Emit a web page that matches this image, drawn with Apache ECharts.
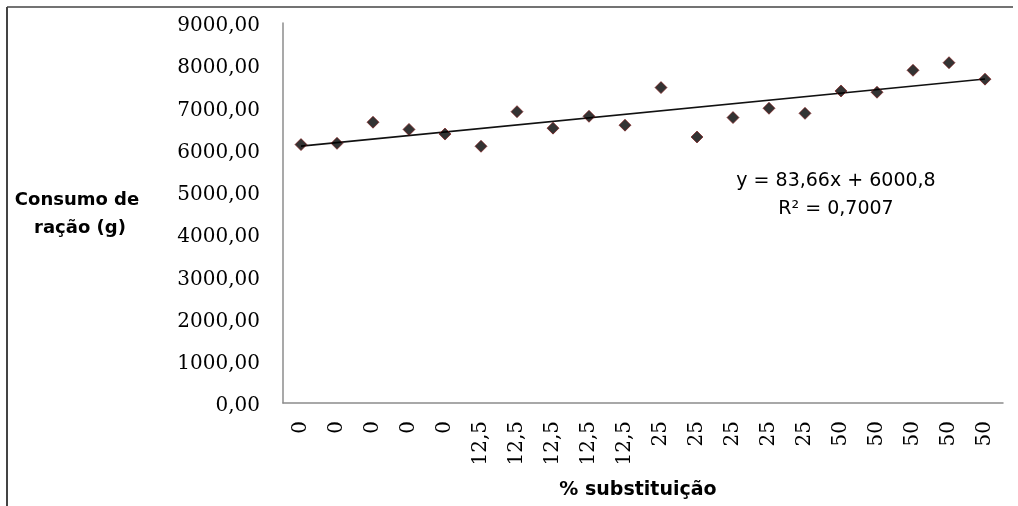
<!DOCTYPE html>
<html>
<head>
<meta charset="utf-8">
<script src="https://cdn.jsdelivr.net/npm/echarts@6/dist/echarts.min.js"></script>
<style>
html,body{margin:0;padding:0;background:#fff;}
#chart{width:1018px;height:506px;}
</style>
</head>
<body>
<div id="chart"></div>
<script>
// Data
const categories = ['0','0','0','0','0','12,5','12,5','12,5','12,5','12,5','25','25','25','25','25','50','50','50','50','50'];
const consumo = [6120, 6150, 6650, 6480, 6370, 6080, 6900, 6510, 6790, 6580, 7470, 6300, 6760, 6980, 6860, 7390, 7360, 7880, 8060, 7670];
const trendSlope = 83.66;
const trendIntercept = 6000.8;
const equationLines = ['y = 83,66x + 6000,8', 'R² = 0,7007'];
const yTitleLines = ['Consumo de', 'ração (g)'];
const xTitle = '% substituição';

const scatterData = consumo.map((v, i) => [i, v]);
const n = consumo.length;
const trendData = [[0, trendIntercept + trendSlope * 1], [n - 1, trendIntercept + trendSlope * n]];

const chart = echarts.init(document.getElementById('chart'));
chart.setOption({
  animation: false,
  backgroundColor: '#ffffff',
  grid: { left: 283, right: 15, top: 23, bottom: 103, containLabel: false },
  xAxis: {
    type: 'category',
    data: categories,
    boundaryGap: true,
    axisLine: { lineStyle: { color: '#8c8c8c', width: 1.5 } },
    axisTick: { show: false },
    axisLabel: {
      rotate: 90, interval: 0, margin: 18,
      fontFamily: 'DejaVu Serif', fontSize: 20, color: '#000'
    },
    splitLine: { show: false }
  },
  yAxis: {
    type: 'value', min: 0, max: 9000, interval: 1000,
    axisLine: { show: true, lineStyle: { color: '#8c8c8c', width: 1.5 } },
    axisTick: { show: false },
    splitLine: { show: false },
    axisLabel: {
      margin: 23, color: '#000',
      formatter: v => '{t|' + v.toFixed(2).replace('.', ',') + '}',
      rich: { t: { fontFamily: 'DejaVu Serif', fontSize: 20, color: '#000', padding: [6, 0, 0, 0] } }
    }
  },
  series: [
    {
      type: 'line', data: trendData, symbol: 'none', silent: true,
      lineStyle: { color: '#111', width: 1.6 }, z: 2
    },
    {
      type: 'scatter', data: scatterData, symbol: 'diamond', symbolSize: 12,
      itemStyle: { color: '#000', borderColor: '#7a1010', borderWidth: 0.8 }, z: 3
    }
  ],
  graphic: [
    { type: 'line', shape: { x1: 7, y1: 7, x2: 1013, y2: 7 }, style: { stroke: '#444', lineWidth: 1.5 } },
    { type: 'line', shape: { x1: 7, y1: 7, x2: 7, y2: 506 }, style: { stroke: '#444', lineWidth: 2 } },
    { type: 'text', x: 77, y: 200, style: { text: yTitleLines[0], fontFamily: 'DejaVu Sans', fontWeight: 'bold', fontSize: 18, fill: '#000', align: 'center', verticalAlign: 'middle' } },
    { type: 'text', x: 80, y: 228, style: { text: yTitleLines[1], fontFamily: 'DejaVu Sans', fontWeight: 'bold', fontSize: 18, fill: '#000', align: 'center', verticalAlign: 'middle' } },
    { type: 'text', x: 638, y: 490, style: { text: xTitle, fontFamily: 'DejaVu Sans', fontWeight: 'bold', fontSize: 19, fill: '#000', align: 'center', verticalAlign: 'middle' } },
    { type: 'text', x: 836, y: 181, style: { text: equationLines[0], fontFamily: 'DejaVu Sans', fontSize: 19, fill: '#000', align: 'center', verticalAlign: 'middle' } },
    { type: 'text', x: 836, y: 209, style: { text: equationLines[1], fontFamily: 'DejaVu Sans', fontSize: 19, fill: '#000', align: 'center', verticalAlign: 'middle' } }
  ]
});
</script>
</body>
</html>
